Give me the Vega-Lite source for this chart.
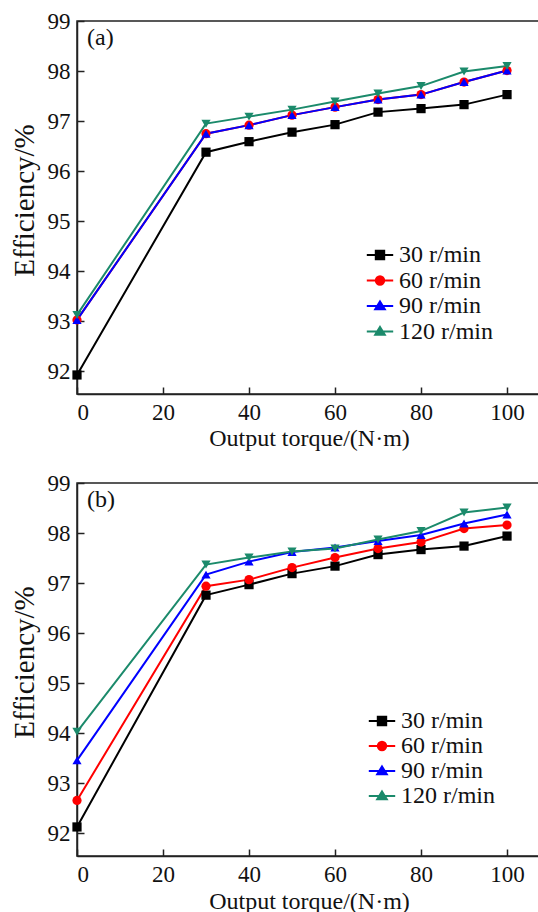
{
  "$schema": "https://vega.github.io/schema/vega-lite/v6.json",
  "padding": {"left": 9, "top": 9, "right": 0, "bottom": 0},
  "background": "white",
  "bounds": "flush",
  "spacing": 89,
  "config": {
    "font": "Liberation Serif, Times New Roman, serif",
    "view": {"stroke": "#222", "strokeWidth": 1.5},
    "title": {"font": "Liberation Serif, Times New Roman, serif", "fontSize": 24, "fontWeight": "normal", "color": "#111", "anchor": "start", "frame": "group", "baseline": "alphabetic"},
    "axis": {
      "grid": false,
      "labelFont": "Liberation Serif, Times New Roman, serif",
      "labelFontSize": 23,
      "labelColor": "#111",
      "titleFont": "Liberation Serif, Times New Roman, serif",
      "titleFontSize": 24,
      "titleFontWeight": "normal",
      "titleColor": "#111",
      "domainColor": "#222",
      "domainWidth": 1.5,
      "tickColor": "#222",
      "tickWidth": 1.5,
      "tickSize": -7,
      "labelPadding": 14
    },
    "axisX": {"titlePadding": 2},
    "axisY": {"titleFontSize": 29, "titlePadding": 8, "titleY": 179},
    "legend": {
      "labelFont": "Liberation Serif, Times New Roman, serif",
      "labelFontSize": 24,
      "labelColor": "#111",
      "symbolSize": 576,
      "symbolStrokeWidth": 2,
      "symbolOpacity": 1,
      "labelOffset": 6,
      "rowPadding": 0.5,
      "padding": 0
    }
  },
  "resolve": {"scale": {"color": "independent", "shape": "independent", "stroke": "independent"}},
  "datasets": {
    "a": [
      {"torque": 0, "eff": 91.93, "speed": "30 r/min"},
      {"torque": 30, "eff": 96.38, "speed": "30 r/min"},
      {"torque": 40, "eff": 96.59, "speed": "30 r/min"},
      {"torque": 50, "eff": 96.78, "speed": "30 r/min"},
      {"torque": 60, "eff": 96.93, "speed": "30 r/min"},
      {"torque": 70, "eff": 97.18, "speed": "30 r/min"},
      {"torque": 80, "eff": 97.25, "speed": "30 r/min"},
      {"torque": 90, "eff": 97.33, "speed": "30 r/min"},
      {"torque": 100, "eff": 97.53, "speed": "30 r/min"},
      {"torque": 0, "eff": 93.03, "speed": "60 r/min"},
      {"torque": 30, "eff": 96.75, "speed": "60 r/min"},
      {"torque": 40, "eff": 96.92, "speed": "60 r/min"},
      {"torque": 50, "eff": 97.12, "speed": "60 r/min"},
      {"torque": 60, "eff": 97.28, "speed": "60 r/min"},
      {"torque": 70, "eff": 97.43, "speed": "60 r/min"},
      {"torque": 80, "eff": 97.53, "speed": "60 r/min"},
      {"torque": 90, "eff": 97.78, "speed": "60 r/min"},
      {"torque": 100, "eff": 98.01, "speed": "60 r/min"},
      {"torque": 0, "eff": 93.03, "speed": "90 r/min"},
      {"torque": 30, "eff": 96.75, "speed": "90 r/min"},
      {"torque": 40, "eff": 96.92, "speed": "90 r/min"},
      {"torque": 50, "eff": 97.12, "speed": "90 r/min"},
      {"torque": 60, "eff": 97.28, "speed": "90 r/min"},
      {"torque": 70, "eff": 97.43, "speed": "90 r/min"},
      {"torque": 80, "eff": 97.53, "speed": "90 r/min"},
      {"torque": 90, "eff": 97.78, "speed": "90 r/min"},
      {"torque": 100, "eff": 98.01, "speed": "90 r/min"},
      {"torque": 0, "eff": 93.13, "speed": "120 r/min"},
      {"torque": 30, "eff": 96.95, "speed": "120 r/min"},
      {"torque": 40, "eff": 97.09, "speed": "120 r/min"},
      {"torque": 50, "eff": 97.23, "speed": "120 r/min"},
      {"torque": 60, "eff": 97.39, "speed": "120 r/min"},
      {"torque": 70, "eff": 97.55, "speed": "120 r/min"},
      {"torque": 80, "eff": 97.70, "speed": "120 r/min"},
      {"torque": 90, "eff": 97.99, "speed": "120 r/min"},
      {"torque": 100, "eff": 98.10, "speed": "120 r/min"}
    ],
    "b": [
      {"torque": 0, "eff": 92.13, "speed": "30 r/min"},
      {"torque": 30, "eff": 96.76, "speed": "30 r/min"},
      {"torque": 40, "eff": 96.97, "speed": "30 r/min"},
      {"torque": 50, "eff": 97.19, "speed": "30 r/min"},
      {"torque": 60, "eff": 97.34, "speed": "30 r/min"},
      {"torque": 70, "eff": 97.57, "speed": "30 r/min"},
      {"torque": 80, "eff": 97.67, "speed": "30 r/min"},
      {"torque": 90, "eff": 97.74, "speed": "30 r/min"},
      {"torque": 100, "eff": 97.94, "speed": "30 r/min"},
      {"torque": 0, "eff": 92.66, "speed": "60 r/min"},
      {"torque": 30, "eff": 96.94, "speed": "60 r/min"},
      {"torque": 40, "eff": 97.07, "speed": "60 r/min"},
      {"torque": 50, "eff": 97.31, "speed": "60 r/min"},
      {"torque": 60, "eff": 97.51, "speed": "60 r/min"},
      {"torque": 70, "eff": 97.69, "speed": "60 r/min"},
      {"torque": 80, "eff": 97.82, "speed": "60 r/min"},
      {"torque": 90, "eff": 98.09, "speed": "60 r/min"},
      {"torque": 100, "eff": 98.16, "speed": "60 r/min"},
      {"torque": 0, "eff": 93.46, "speed": "90 r/min"},
      {"torque": 30, "eff": 97.17, "speed": "90 r/min"},
      {"torque": 40, "eff": 97.43, "speed": "90 r/min"},
      {"torque": 50, "eff": 97.62, "speed": "90 r/min"},
      {"torque": 60, "eff": 97.71, "speed": "90 r/min"},
      {"torque": 70, "eff": 97.84, "speed": "90 r/min"},
      {"torque": 80, "eff": 97.96, "speed": "90 r/min"},
      {"torque": 90, "eff": 98.19, "speed": "90 r/min"},
      {"torque": 100, "eff": 98.37, "speed": "90 r/min"},
      {"torque": 0, "eff": 94.03, "speed": "120 r/min"},
      {"torque": 30, "eff": 97.37, "speed": "120 r/min"},
      {"torque": 40, "eff": 97.51, "speed": "120 r/min"},
      {"torque": 50, "eff": 97.63, "speed": "120 r/min"},
      {"torque": 60, "eff": 97.69, "speed": "120 r/min"},
      {"torque": 70, "eff": 97.87, "speed": "120 r/min"},
      {"torque": 80, "eff": 98.04, "speed": "120 r/min"},
      {"torque": 90, "eff": 98.41, "speed": "120 r/min"},
      {"torque": 100, "eff": 98.51, "speed": "120 r/min"}
    ]
  },
  "vconcat": [
    {
      "width": 464,
      "height": 373,
      "title": {"text": "(a)", "offset": -40, "dx": 10},
      "data": {"name": "a"},
      "encoding": {
        "x": {"field": "torque", "type": "quantitative", "scale": {"domain": [0, 107.9], "nice": false}, "axis": {"title": "Output torque/(N·m)", "values": [0, 20, 40, 60, 80, 100]}},
        "y": {"field": "eff", "type": "quantitative", "scale": {"domain": [91.55, 99], "nice": false, "zero": false}, "axis": {"title": "Efficiency/%", "values": [92, 93, 94, 95, 96, 97, 98, 99]}}
      },
      "resolve": {"scale": {"color": "independent", "shape": "independent", "stroke": "independent"}},
      "layer": [
        {
          "mark": {"type": "line", "strokeWidth": 2},
          "encoding": {
            "color": {"field": "speed", "type": "nominal", "scale": {"domain": ["30 r/min", "60 r/min", "90 r/min", "120 r/min"], "range": ["#000000", "#ff0000", "#0000ff", "#1b8a6b"]}, "legend": null}
          }
        },
        {
          "mark": {"type": "point", "filled": true, "opacity": 1, "size": 85},
          "encoding": {
            "color": {"field": "speed", "type": "nominal", "scale": {"domain": ["30 r/min", "60 r/min", "90 r/min", "120 r/min"], "range": ["#000000", "#ff0000", "#0000ff", "#1b8a6b"]}, "legend": null},
            "shape": {"field": "speed", "type": "nominal", "scale": {"domain": ["30 r/min", "60 r/min", "90 r/min", "120 r/min"], "range": ["square", "circle", "triangle-up", "triangle-down"]}, "legend": null}
          }
        },
        {
          "mark": {"type": "point", "filled": true, "opacity": 0, "strokeWidth": 2},
          "encoding": {
            "color": {"field": "speed", "type": "nominal", "scale": {"domain": ["30 r/min", "60 r/min", "90 r/min", "120 r/min"], "range": ["#000000", "#ff0000", "#0000ff", "#1b8a6b"]}, "legend": {"title": null, "orient": "none", "legendX": 290, "legendY": 221}},
            "stroke": {"field": "speed", "type": "nominal", "scale": {"domain": ["30 r/min", "60 r/min", "90 r/min", "120 r/min"], "range": ["#000000", "#ff0000", "#0000ff", "#1b8a6b"]}, "legend": {"title": null, "orient": "none", "legendX": 290, "legendY": 221}},
            "shape": {"field": "speed", "type": "nominal", "scale": {"domain": ["30 r/min", "60 r/min", "90 r/min", "120 r/min"], "range": ["M-1.1,0H1.1M-0.35,-0.35H0.35V0.35H-0.35Z", "M-1.1,0H1.1M0.35,0A0.35,0.35,0,1,1,-0.35,0A0.35,0.35,0,1,1,0.35,0Z", "M-1.1,0H1.1M0,-0.38L0.4,0.28H-0.4Z", "M-1.1,0H1.1M0,-0.38L0.4,0.28H-0.4Z"]}, "legend": {"title": null, "orient": "none", "legendX": 290, "legendY": 221}}
          }
        }
      ]
    },
    {
      "width": 464,
      "height": 373,
      "title": {"text": "(b)", "offset": -40, "dx": 10},
      "data": {"name": "b"},
      "encoding": {
        "x": {"field": "torque", "type": "quantitative", "scale": {"domain": [0, 107.9], "nice": false}, "axis": {"title": "Output torque/(N·m)", "values": [0, 20, 40, 60, 80, 100], "titlePadding": 3}},
        "y": {"field": "eff", "type": "quantitative", "scale": {"domain": [91.55, 99], "nice": false, "zero": false}, "axis": {"title": "Efficiency/%", "values": [92, 93, 94, 95, 96, 97, 98, 99]}}
      },
      "resolve": {"scale": {"color": "independent", "shape": "independent", "stroke": "independent"}},
      "layer": [
        {
          "mark": {"type": "line", "strokeWidth": 2},
          "encoding": {
            "color": {"field": "speed", "type": "nominal", "scale": {"domain": ["30 r/min", "60 r/min", "90 r/min", "120 r/min"], "range": ["#000000", "#ff0000", "#0000ff", "#1b8a6b"]}, "legend": null}
          }
        },
        {
          "mark": {"type": "point", "filled": true, "opacity": 1, "size": 85},
          "encoding": {
            "color": {"field": "speed", "type": "nominal", "scale": {"domain": ["30 r/min", "60 r/min", "90 r/min", "120 r/min"], "range": ["#000000", "#ff0000", "#0000ff", "#1b8a6b"]}, "legend": null},
            "shape": {"field": "speed", "type": "nominal", "scale": {"domain": ["30 r/min", "60 r/min", "90 r/min", "120 r/min"], "range": ["square", "circle", "triangle-up", "triangle-down"]}, "legend": null}
          }
        },
        {
          "mark": {"type": "point", "filled": true, "opacity": 0, "strokeWidth": 2},
          "encoding": {
            "color": {"field": "speed", "type": "nominal", "scale": {"domain": ["30 r/min", "60 r/min", "90 r/min", "120 r/min"], "range": ["#000000", "#ff0000", "#0000ff", "#1b8a6b"]}, "legend": {"title": null, "orient": "none", "legendX": 292, "legendY": 225, "rowPadding": 0}},
            "stroke": {"field": "speed", "type": "nominal", "scale": {"domain": ["30 r/min", "60 r/min", "90 r/min", "120 r/min"], "range": ["#000000", "#ff0000", "#0000ff", "#1b8a6b"]}, "legend": {"title": null, "orient": "none", "legendX": 292, "legendY": 225, "rowPadding": 0}},
            "shape": {"field": "speed", "type": "nominal", "scale": {"domain": ["30 r/min", "60 r/min", "90 r/min", "120 r/min"], "range": ["M-1.1,0H1.1M-0.35,-0.35H0.35V0.35H-0.35Z", "M-1.1,0H1.1M0.35,0A0.35,0.35,0,1,1,-0.35,0A0.35,0.35,0,1,1,0.35,0Z", "M-1.1,0H1.1M0,-0.38L0.4,0.28H-0.4Z", "M-1.1,0H1.1M0,-0.38L0.4,0.28H-0.4Z"]}, "legend": {"title": null, "orient": "none", "legendX": 292, "legendY": 225, "rowPadding": 0}}
          }
        }
      ]
    }
  ]
}
